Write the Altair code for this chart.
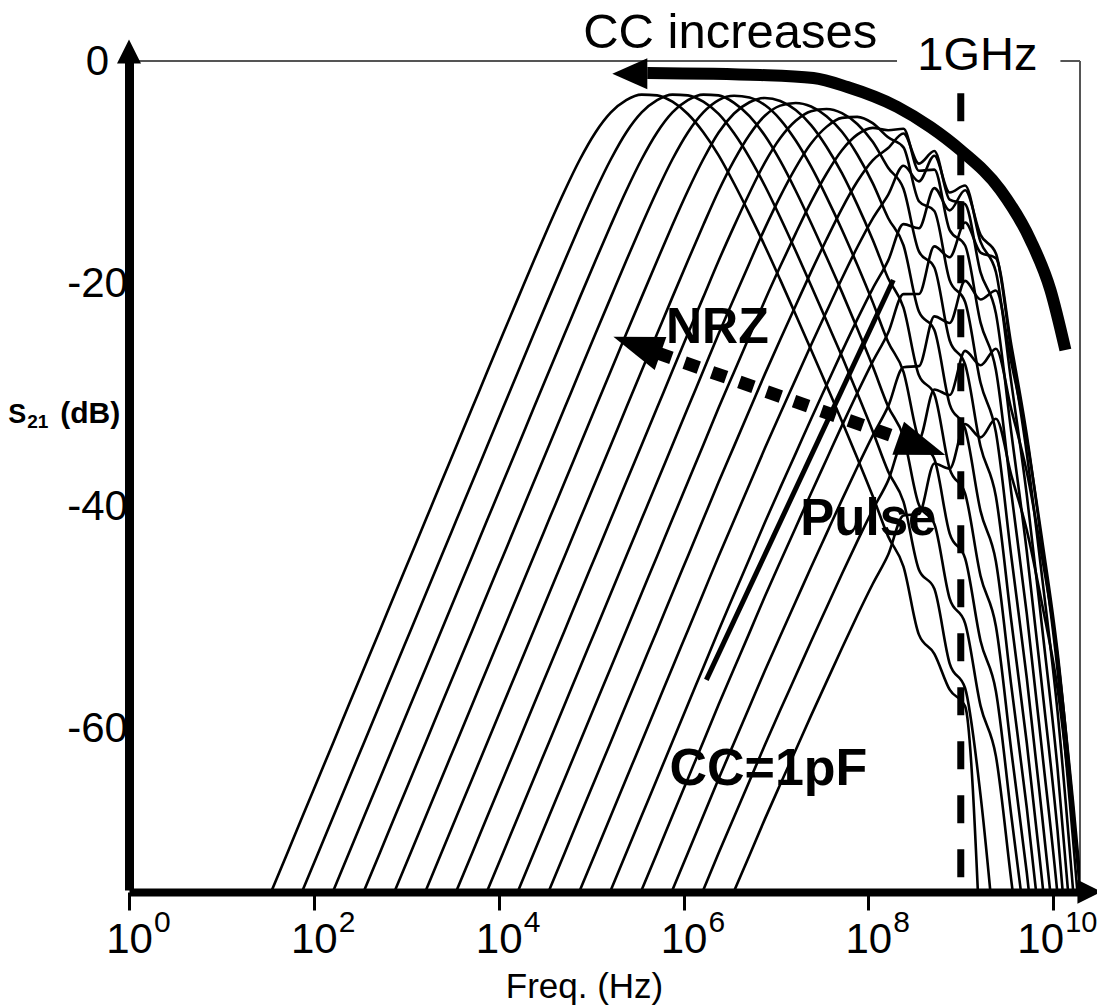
import altair as alt
import pandas as pd

FONT = "Liberation Sans, Arial, Helvetica, sans-serif"

# log10 of frequency in Hz at the sample positions shared by all curves
LOGF = [1.547, 1.714, 1.880, 2.047, 2.214, 2.380, 2.547, 2.714, 2.880, 3.047,
        3.214, 3.380, 3.547, 3.714, 3.880, 4.047, 4.214, 4.380, 4.547, 4.714,
        4.880, 5.047, 5.214, 5.380, 5.547, 5.714, 5.880, 6.047, 6.214, 6.380,
        6.547, 6.714, 6.880, 7.047, 7.214, 7.380, 7.547, 7.714, 7.880, 8.047,
        8.214, 8.380, 8.547, 8.714, 8.880, 9.047, 9.214, 9.380, 9.547, 9.714,
        9.880, 10.047, 10.214, 10.380]

# coupling capacitance of each curve (pF), largest first
CC_PF = [100000, 46400, 21500, 10000, 4640, 2150, 1000, 464,
         215, 100, 46.4, 21.5, 10, 4.64, 2.15, 1]

# index into LOGF of each curve's first sample
START = [0, 2, 4, 6, 8, 10, 12, 14, 16, 18, 20, 22, 24, 26, 28, 30]

# S21 (dB) of each curve at consecutive LOGF samples
S21 = [
    [-74.5, -71.17, -67.83, -64.5, -61.17, -57.83, -54.5, -51.17, -47.83, -44.5,
     -41.17, -37.84, -34.51, -31.17, -27.84, -24.52, -21.22, -17.95, -14.74, -11.66,
     -8.83, -6.42, -4.62, -3.51, -3.02, -3.09, -3.66, -4.76, -6.4, -8.48,
     -11.01, -13.76, -16.62, -19.67, -22.8, -25.94, -29.15, -32.37, -35.68, -39.1,
     -42.72, -45.43, -51.55, -53.27, -56.5, -58.0, -80.0],
    [-74.5, -71.17, -67.83, -64.5, -61.17, -57.83, -54.5, -51.17, -47.83, -44.5,
     -41.17, -37.84, -34.51, -31.17, -27.84, -24.52, -21.22, -17.95, -14.74, -11.66,
     -8.83, -6.42, -4.62, -3.51, -3.02, -3.09, -3.66, -4.76,
     -6.5, -8.68, -11.21, -14.06, -17.07, -20.17, -23.35, -26.54, -29.85, -33.27,
     -36.88, -39.6, -45.72, -47.43, -54.15, -56.37, -66.0, -80.0],
    [-74.5, -71.17, -67.83, -64.5, -61.17, -57.83, -54.5, -51.17, -47.83, -44.5,
     -41.17, -37.84, -34.51, -31.17, -27.84, -24.52, -21.22, -17.95, -14.74, -11.66,
     -8.83, -6.42, -4.62, -3.51, -3.02, -3.09,
     -3.76, -4.96, -6.7, -8.98, -11.66, -14.56, -17.62, -20.77, -24.05, -27.44,
     -31.05, -33.77, -39.88, -41.6, -48.32, -50.53, -57.95, -62.47, -73.68, -84.6],
    [-74.5, -71.17, -67.83, -64.5, -61.17, -57.83, -54.5, -51.17, -47.83, -44.5,
     -41.17, -37.84, -34.51, -31.17, -27.84, -24.52, -21.22, -17.95, -14.74, -11.66,
     -8.83, -6.42, -4.62, -3.51,
     -3.12, -3.29, -3.96, -5.26, -7.15, -9.48, -12.21, -15.16, -18.32, -21.67,
     -25.25, -27.94, -34.05, -35.77, -42.48, -44.7, -52.12, -56.63, -67.85, -78.77],
    [-74.5, -71.17, -67.83, -64.5, -61.17, -57.83, -54.5, -51.17, -47.83, -44.5,
     -41.17, -37.84, -34.51, -31.17, -27.84, -24.52, -21.22, -17.95, -14.74, -11.66,
     -8.83, -6.42,
     -4.72, -3.71, -3.32, -3.59, -4.41, -5.76, -7.7, -10.08, -12.91, -16.06,
     -19.52, -22.17, -28.25, -29.94, -36.65, -38.87, -46.28, -50.8, -62.02, -72.93, -85.35],
    [-74.5, -71.17, -67.83, -64.5, -61.17, -57.83, -54.5, -51.17, -47.83, -44.5,
     -41.17, -37.84, -34.51, -31.17, -27.84, -24.52, -21.22, -17.95, -14.74, -11.66,
     -8.93, -6.62, -4.92, -4.01, -3.77, -4.09, -4.96, -6.36, -8.4, -10.98,
     -14.11, -16.56, -22.52, -24.17, -30.85, -33.04, -40.45, -44.97, -56.18, -67.1, -79.52],
    [-74.5, -71.17, -67.83, -64.5, -61.17, -57.83, -54.5, -51.17, -47.83, -44.5,
     -41.17, -37.84, -34.51, -31.17, -27.84, -24.52, -21.22, -17.95,
     -14.84, -11.86, -9.13, -6.92, -5.37, -4.51, -4.32, -4.69, -5.66, -7.26,
     -9.6, -11.48, -17.11, -18.56, -25.12, -27.27, -34.65, -39.14, -50.35, -61.27,
     -73.68, -86.6],
    [-74.5, -71.17, -67.83, -64.5, -61.17, -57.83, -54.5, -51.17, -47.83, -44.5,
     -41.17, -37.84, -34.51, -31.17, -27.84, -24.52,
     -21.32, -18.15, -15.04, -12.16, -9.58, -7.42, -5.92, -5.11, -5.02, -5.59,
     -6.86, -7.76, -12.6, -13.48, -19.71, -21.66, -28.92, -33.37, -44.55, -55.44,
     -67.85, -80.77],
    [-74.5, -71.17, -67.83, -64.5, -61.17, -57.83, -54.5, -51.17, -47.83, -44.5,
     -41.17, -37.84, -34.51, -31.17,
     -27.94, -24.72, -21.52, -18.45, -15.49, -12.66, -10.13, -8.02, -6.62, -6.01,
     -6.22, -6.09, -9.86, -9.76, -15.2, -16.58, -23.51, -27.76, -38.82, -49.67,
     -62.05, -74.94, -91.35],
    [-74.5, -71.17, -67.83, -64.5, -61.17, -57.83, -54.5, -51.17, -47.83, -44.5,
     -41.17, -37.84,
     -34.61, -31.37, -28.14, -25.02, -21.97, -18.95, -16.04, -13.26, -10.83, -8.92,
     -7.82, -6.51, -9.22, -8.09, -12.46, -12.86, -19.0, -22.68, -33.41, -44.06,
     -56.32, -69.17, -85.55],
    [-74.5, -71.17, -67.83, -64.5, -61.17, -57.83, -54.5, -51.17, -47.83, -44.5,
     -41.27, -38.04, -34.81, -31.67, -28.59, -25.52, -22.52, -19.55, -16.74, -14.16,
     -12.03, -9.42, -10.82, -8.51, -11.82, -11.19, -16.26, -18.96, -28.9, -38.98,
     -50.91, -63.56, -79.82],
    [-74.5, -71.17, -67.83, -64.5, -61.17, -57.83, -54.5, -51.17,
     -47.93, -44.7, -41.47, -38.34, -35.26, -32.17, -29.14, -26.12, -23.22, -20.45,
     -17.94, -14.66, -15.03, -11.42, -13.42, -11.61, -15.62, -17.29, -26.16, -35.26,
     -46.4, -58.48, -74.41, -91.56],
    [-74.5, -71.17, -67.83, -64.5, -61.17, -57.83,
     -54.6, -51.37, -48.13, -45.0, -41.92, -38.84, -35.81, -32.77, -29.84, -27.02,
     -24.42, -20.95, -20.94, -16.66, -17.63, -14.52, -17.22, -17.71, -25.52, -33.59,
     -43.66, -54.76, -69.9, -86.48],
    [-74.5, -71.17, -67.83, -64.5,
     -61.27, -58.03, -54.8, -51.67, -48.58, -45.5, -42.47, -39.44, -36.51, -33.67,
     -31.04, -27.52, -27.42, -22.95, -23.54, -19.76, -21.43, -20.62, -27.12, -34.01,
     -43.02, -53.09, -67.16, -82.76],
    [-74.5, -71.17,
     -67.93, -64.7, -61.47, -58.33, -55.25, -52.17, -49.13, -46.1, -43.17, -40.34,
     -37.71, -34.17, -34.04, -29.52, -30.02, -26.05, -27.34, -25.86, -31.33, -36.92,
     -44.62, -53.51, -66.52, -81.09],
    [-74.6, -71.37, -68.13, -65.0, -61.92, -58.83, -55.8, -52.77, -49.83, -47.0,
     -44.37, -40.84, -40.71, -36.17, -36.64, -32.62, -33.82, -32.15, -37.24, -42.16,
     -48.83, -56.42, -68.12, -81.51],
]

# tick exponents of the frequency axis and dB ticks
TICK_EXP = [0, 2, 4, 6, 8, 10]
DB_TICKS = [0, -20, -40, -60]

# long table for the curve family
rows = []
for cc, start, values in zip(CC_PF, START, S21):
    for n, v in enumerate(values):
        rows.append({"cc": cc, "f": 10 ** LOGF[start + n], "db": v})
curves_df = pd.DataFrame(rows)

F_MAX = 10 ** 10.29
X_SCALE = alt.Scale(type="log", domain=[1, F_MAX], nice=False)
Y_SCALE = alt.Scale(domain=[-74.5, 0], nice=False, zero=False)

X_AXIS = alt.Axis(
    values=[10 ** e for e in TICK_EXP], labelExpr="'10'",
    labelFont=FONT, labelFontSize=42, labelColor="black", labelPadding=9,
    labelFlush=False, labelOverlap=False,
    labelOffset=alt.condition("datum.value > 1e9", alt.value(-13), alt.value(0)),
    tickSize=18, tickWidth=3, tickColor="black",
    domainColor="black", domainWidth=8, offset=2, grid=False,
    title="Freq. (Hz)", titleFont=FONT, titleFontSize=35, titleFontWeight="normal",
    titleColor="black", titleX=455, titleY=105, titleAlign="center",
    titleBaseline="alphabetic",
)
Y_AXIS = alt.Axis(
    values=DB_TICKS, labelExpr="'' + datum.value",
    labelFont=FONT, labelFontSize=42, labelColor="black", labelPadding=26,
    labelAlign="center", labelFlush=False, tickSize=6, tickWidth=2, tickColor="black",
    domainColor="black", domainWidth=9, grid=False, title=None,
)


def xq(field):
    return alt.X(field, type="quantitative", scale=X_SCALE, axis=X_AXIS)


def yq(field):
    return alt.Y(field, type="quantitative", scale=Y_SCALE, axis=Y_AXIS)


def point_df(lf, db):
    return pd.DataFrame({"f": [10 ** lf], "db": [db]})


# thin frame on top and right (top broken around the 1GHz label)
frame_top = alt.Chart(pd.DataFrame({
    "f": [1.0, 10 ** 10.078], "f2": [10 ** 8.31, F_MAX], "db": [0.0, 0.0]
})).mark_rule(color="#555555", strokeWidth=2).encode(
    x=xq("f"), x2=alt.X2("f2"), y=yq("db"))
frame_right = alt.Chart(pd.DataFrame({
    "f": [F_MAX], "db": [0.0], "db2": [-74.5]
})).mark_rule(color="#555555", strokeWidth=2).encode(
    x=xq("f"), y=yq("db"), y2=alt.Y2("db2"))

curves = alt.Chart(curves_df).mark_line(
    color="black", strokeWidth=2.6, interpolate="monotone", clip=True
).encode(x=xq("f"), y=yq("db"), detail="cc:N")

# 1 GHz marker
ghz_line = alt.Chart(pd.DataFrame({"f": [1e9], "db": [-2.9], "db2": [-74.5]})).mark_rule(
    color="black", strokeWidth=7, strokeDash=[28, 26]
).encode(x=xq("f"), y=yq("db"), y2=alt.Y2("db2"))

# thin guide next to "Pulse"
pulse_line = alt.Chart(pd.DataFrame({"f": [10 ** 6.247, 10 ** 8.270], "db": [-55.62, -19.68]})).mark_line(
    color="black", strokeWidth=5
).encode(x=xq("f"), y=yq("db"))

# "CC increases" arrow along the top of the family
cc_arrow_lf = [5.608, 6.831, 7.405, 7.773, 8.314, 8.671, 8.996, 9.429, 9.753, 9.970, 10.132]
cc_arrow_db = [-1.08, -1.26, -1.53, -2.34, -4.13, -5.93, -8.0, -11.59, -16.08, -20.58, -25.97]
cc_shaft = alt.Chart(pd.DataFrame({"f": [10 ** v for v in cc_arrow_lf], "db": cc_arrow_db})).mark_line(
    color="black", strokeWidth=12, interpolate="monotone", strokeCap="butt"
).encode(x=xq("f"), y=yq("db"))
cc_head = alt.Chart(point_df(5.419, -1.15)).mark_point(
    shape="M-1,0L1,-0.89L1,0.89Z", size=1225, filled=True, color="black", opacity=1, strokeWidth=0
).encode(x=xq("f"), y=yq("db"))

# dotted double arrow between NRZ and Pulse
nrz_line = alt.Chart(pd.DataFrame({"f": [10 ** 5.716, 10 ** 8.324], "db": [-26.24, -33.87]})).mark_line(
    color="black", strokeWidth=13, strokeDash=[15, 14], strokeCap="butt"
).encode(x=xq("f"), y=yq("db"))
nrz_head_left = alt.Chart(point_df(5.496, -25.54)).mark_point(
    shape="M-1,0L1,-0.7L1,0.7Z", size=2500, angle=19.5, filled=True, color="black",
    opacity=1, strokeWidth=0
).encode(x=xq("f"), y=yq("db"))
nrz_head_right = alt.Chart(point_df(8.578, -34.65)).mark_point(
    shape="M1,0L-1,-0.7L-1,0.7Z", size=2500, angle=19.5, filled=True, color="black",
    opacity=1, strokeWidth=0
).encode(x=xq("f"), y=yq("db"))


def label(text, lf, db, size, weight="normal", align="center", dx=0, dy=0):
    return alt.Chart(point_df(lf, db)).mark_text(
        text=text, font=FONT, fontSize=size, fontWeight=weight, align=align,
        baseline="alphabetic", color="black", dx=dx, dy=dy
    ).encode(x=xq("f"), y=yq("db"))


texts = [
    label("CC increases", 6.506, 1.17, 49),
    label("1GHz", 9.180, -0.81, 47),
    label("NRZ", 6.366, -25.34, 50, "bold"),
    label("Pulse", 7.264, -42.59, 51, "bold", align="left"),
    label("CC=1pF", 6.918, -65.05, 52, "bold"),
    # y-axis title S21 (dB) with subscript
    label("S", -1.306, -32.52, 27, "bold", align="left"),
    label("21", -1.102, -33.0, 19, "bold", align="left"),
    label("(dB)", -0.745, -32.52, 30, "bold", align="left"),
    # exponent of the last frequency tick, shifted with its label
    label(str(TICK_EXP[-1]), TICK_EXP[-1], -74.5, 29, align="left", dx=12, dy=42),
]

# exponents of the frequency tick labels
exponents = alt.Chart(pd.DataFrame({
    "f": [10 ** e for e in TICK_EXP[:-1]], "db": [-74.5] * (len(TICK_EXP) - 1),
    "exp": [str(e) for e in TICK_EXP[:-1]],
})).mark_text(
    font=FONT, fontSize=30, align="left", baseline="alphabetic", color="black", dx=25, dy=42
).encode(x=xq("f"), y=yq("db"), text="exp:N")

# arrow tips of the two axes
y_tip = alt.Chart(point_df(0.0, 0.85)).mark_point(
    shape="M0,-1L1,1L-1,1Z", size=576, filled=True, color="black", opacity=1, strokeWidth=0
).encode(x=xq("f"), y=yq("db"))
x_tip = alt.Chart(point_df(10.392, -74.66)).mark_point(
    shape="M1,0L-1,-1L-1,1Z", size=576, filled=True, color="black", opacity=1, strokeWidth=0
).encode(x=xq("f"), y=yq("db"))

chart = alt.layer(
    frame_top, frame_right, curves, ghz_line, pulse_line, cc_shaft, cc_head,
    nrz_line, nrz_head_left, nrz_head_right, *texts, exponents, y_tip, x_tip
).properties(
    width=951, height=829,
    padding={"left": 129, "top": 61, "right": 17, "bottom": 115},
    autosize=alt.AutoSizeParams(type="none"),
    background="white",
).configure_view(stroke=None)

chart.save("out.html", embed_options={"renderer": "svg", "actions": False})
